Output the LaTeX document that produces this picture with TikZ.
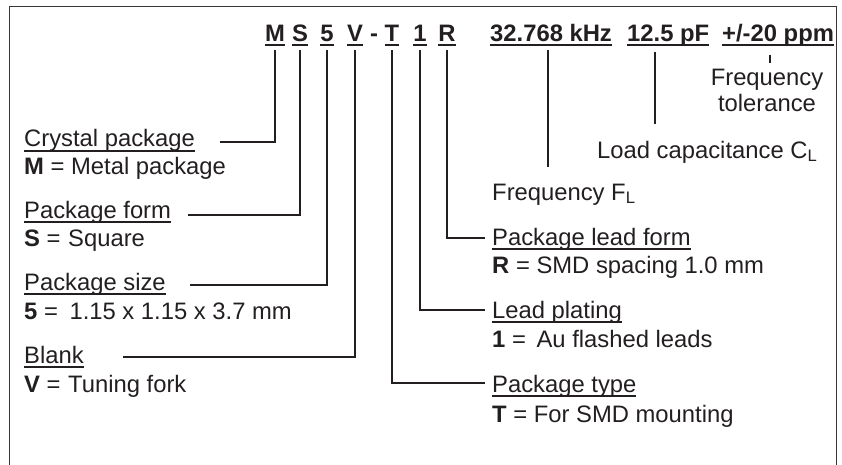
\documentclass[tikz,border=0pt]{standalone}
\usepackage{fontspec}
\setmainfont{Liberation Sans}
\definecolor{ink}{HTML}{231F20}
\newcommand\ulb[1]{\setbox0\hbox{#1}\rlap{\rule[-3.6pt]{\wd0}{2pt}}\box0}
\newcommand\ulr[1]{\setbox0\hbox{#1}\rlap{\rule[-4.8pt]{\wd0}{1.7pt}}\box0}
\tikzset{
  lbl/.style={inner sep=0pt, anchor=base west, text=ink, font=\fontsize{23.8}{28}\selectfont},
  code/.style={inner sep=0pt, anchor=base, text=ink, font=\fontsize{23.8}{28}\selectfont\bfseries},
  conn/.style={draw=ink, line width=2.6pt},
  frame/.style={draw=ink!90, line width=1.6pt},
}
\begin{document}
\begin{tikzpicture}[x=1pt,y=-1pt]
\useasboundingbox (0,0) rectangle (842,465);
% frame (open at the bottom)
\draw[frame] (9.5,466) -- (9.5,6.5) -- (836.5,6.5) -- (836.5,466);

% code letters
\node[code] (M) at (275,42) {\ulb{M}};
\node[code] (S) at (300,42) {\ulb{S}};
\node[code] (n5) at (327,42) {\ulb{5}};
\node[code] (V) at (355,42) {\ulb{V}};
\node[code] (dash) at (374,42) {-};
\node[code] (T) at (392,42) {\ulb{T}};
\node[code] (n1) at (420,42) {\ulb{1}};
\node[code] (R) at (447,42) {\ulb{R}};
\node[code, anchor=base west] (khz) at (490,42) {\ulb{32.768 kHz}};
\node[code, anchor=base west] (pf) at (627,42) {\ulb{12.5 pF}};
\node[code, anchor=base west] (ppm) at (722,42) {\ulb{+/-20 ppm}};

% left descriptions
\node[lbl] (cp) at (24,147) {\ulr{Crystal package}};
\node[lbl] (cpv) at (24,175) {\textbf{M} = Metal package};
\node[lbl] (pfm) at (24,218) {\ulr{Package form}};
\node[lbl] (pfmv) at (24,246) {\textbf{S} = \hspace{1pt}Square};
\node[lbl] (psz) at (24,290) {\ulr{Package size}};
\node[lbl] (pszv) at (24,319) {\textbf{5} = \hspace{5pt}1.15 x 1.15 x 3.7 mm};
\node[lbl] (blk) at (24,363) {\ulr{Blank}};
\node[lbl] (blkv) at (24,392) {\textbf{V} = \hspace{1pt}Tuning fork};

% right descriptions
\node[lbl] (plf) at (492,245) {\ulr{Package lead form}};
\node[lbl] (plfv) at (492,273) {\textbf{R} = SMD spacing 1.0 mm};
\node[lbl] (lp) at (492,318) {\ulr{Lead plating}};
\node[lbl] (lpv) at (492,347) {\textbf{1} = \hspace{4pt}Au flashed leads};
\node[lbl] (pt) at (492,392) {\ulr{Package type}};
\node[lbl] (ptv) at (492,422) {\textbf{T} = For SMD mounting};

\node[lbl] (fl) at (492,200) {Frequency F\textsubscript{L}};
\node[lbl] (cl) at (597,158) {Load capacitance C\textsubscript{L}};
\node[lbl, anchor=base] (tolA) at (767,86) {Frequency};
\node[lbl, anchor=base] (tolB) at (767,112) {tolerance};

% connector end points
\coordinate (cpE) at (220,142);
\coordinate (pfmE) at (188,215);
\coordinate (pszE) at (190,285);
\coordinate (blkE) at (123,357);
\coordinate (plfE) at (485,238);
\coordinate (lpE) at (485,310);
\coordinate (ptE) at (485,383);
\coordinate (flE) at (548,167);
\coordinate (clE) at (655,124);
\coordinate (tolE) at (770,63);

% connectors
\draw[conn] (M.south) ++(0,4.5) |- (cpE);
\draw[conn] (S.south) ++(0,4.5) |- (pfmE);
\draw[conn] (n5.south) ++(0,4.5) |- (pszE);
\draw[conn] (V.south) ++(0,4.5) |- (blkE);
\draw[conn] (R.south) ++(0,4.5) |- (plfE);
\draw[conn] (n1.south) ++(0,4.5) |- (lpE);
\draw[conn] (T.south) ++(0,4.5) |- (ptE);
\draw[conn] (khz.south -| flE) ++(0,4.5) -- (flE);
\draw[conn] (pf.south -| clE) ++(0,4.5) -- (clE);
\draw[conn, line width=2pt] (ppm.south -| tolE) ++(0,7.5) -- (tolE);
\end{tikzpicture}
\end{document}
